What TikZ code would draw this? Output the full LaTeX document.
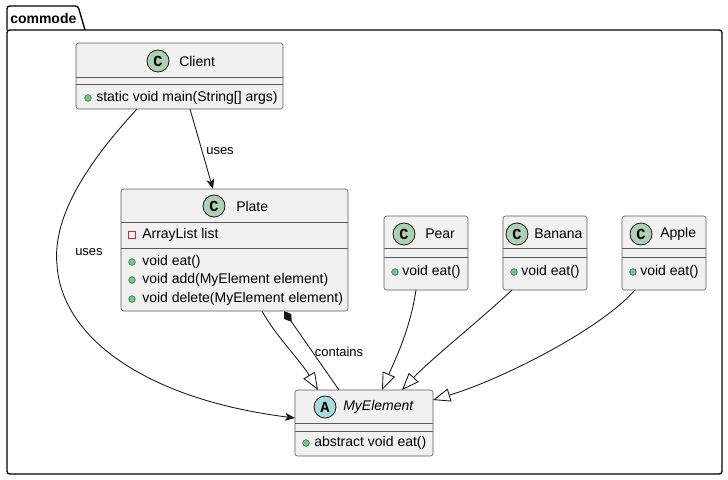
\documentclass[tikz,border=0pt]{standalone}
\usepackage{fontspec}
\setmainfont{Liberation Sans}
\setmonofont{Liberation Mono}
\usetikzlibrary{arrows.meta,calc}
\definecolor{boxfill}{HTML}{F1F1F1}
\definecolor{boxline}{HTML}{181818}
\definecolor{sepline}{HTML}{5A5A5A}
\definecolor{cfill}{HTML}{ADD1B2}
\definecolor{afill}{HTML}{A9DCDF}
\definecolor{pubfill}{HTML}{84BE84}
\definecolor{publine}{HTML}{038048}
\definecolor{privline}{HTML}{C82930}
\begin{document}
\begin{tikzpicture}[x=0.75pt,y=-0.75pt,
  classbox/.style={draw=sepline, fill=boxfill, line width=0.45pt, rounded corners=2pt, inner sep=0, outer sep=0, anchor=north west},
  sep/.style={draw=sepline, line width=0.45pt},
  circ/.style={circle, draw=boxline, line width=0.6pt, minimum size=16.5pt, inner sep=0, font=\fontsize{11.5}{11.5}\selectfont\ttfamily\bfseries},
  cname/.style={anchor=west, inner sep=0, font=\fontsize{10.5}{12}\selectfont},
  member/.style={anchor=west, inner sep=0, font=\fontsize{10.5}{12}\selectfont},
  lbl/.style={inner sep=0, font=\fontsize{9.75}{11}\selectfont},
  pubdot/.style={circle, fill=pubfill, draw=publine, line width=0.4pt, minimum size=5pt, inner sep=0},
  privsq/.style={rectangle, draw=privline, line width=0.6pt, minimum size=5pt, inner sep=0},
  conn/.style={draw=boxline, line width=0.65pt},
  uses/.style={conn, -{Stealth[length=7.5pt,width=6pt,inset=2pt]}},
  ext/.style={conn, -{Triangle[open,length=13pt,width=10pt,fill=white]}},
  comp/.style={conn, {Diamond[length=10pt,width=6.5pt]}-}
]
\useasboundingbox (0,0) rectangle (728,479);
% package
\draw[line width=1pt, black, rounded corners=2pt] (7,30) rectangle (722,474);
\draw[line width=1pt, black, rounded corners=2pt] (7,30) -- (7,6) -- (78,6) -- (85,30);
\node[anchor=west, inner sep=0, font=\fontsize{10.5}{12}\selectfont\bfseries] (pkg) at (10,18) {commode};

% Client
\node[classbox, minimum width=155.25pt, minimum height=49.5pt] (client) at (76,43) {};
\draw[sep] ($(client.north west)+(0,34)$) -- ($(client.north east)+(0,34)$);
\draw[sep] ($(client.north west)+(0,41)$) -- ($(client.north east)+(0,41)$);
\node[circ, fill=cfill] (clientC) at (158,61) {C};
\node[cname] (clientN) at (179,61) {Client};
\node[pubdot] (clientD1) at (88,98) {};
\node[member] (clientM1) at (96,98) {static void main(String[] args)};

% Plate
\node[classbox, minimum width=170.25pt, minimum height=91.5pt] (plate) at (121,189) {};
\draw[sep] ($(plate.north west)+(0,33)$) -- ($(plate.north east)+(0,33)$);
\draw[sep] ($(plate.north west)+(0,59)$) -- ($(plate.north east)+(0,59)$);
\node[circ, fill=cfill] (plateC) at (214,206) {C};
\node[cname] (plateN) at (236,206) {Plate};
\node[privsq] (plateS1) at (132,235) {};
\node[member] (plateA1) at (142,235) {ArrayList list};
\node[pubdot] (plateD1) at (132,262) {};
\node[member] (plateM1) at (142,262) {void eat()};
\node[pubdot] (plateD2) at (132,280) {};
\node[member] (plateM2) at (142,280) {void add(MyElement element)};
\node[pubdot] (plateD3) at (132,299) {};
\node[member] (plateM3) at (142,299) {void delete(MyElement element)};

% Pear
\node[classbox, minimum width=63pt, minimum height=55.5pt] (pear) at (384,216) {};
\draw[sep] ($(pear.north west)+(0,32)$) -- ($(pear.north east)+(0,32)$);
\draw[sep] ($(pear.north west)+(0,41)$) -- ($(pear.north east)+(0,41)$);
\node[circ, fill=cfill] (pearC) at (404,234) {C};
\node[cname] (pearN) at (425,234) {Pear};
\node[pubdot] (pearD1) at (395,272) {};
\node[member] (pearM1) at (402,272) {void eat()};

% Banana
\node[classbox, minimum width=63pt, minimum height=55.5pt] (banana) at (503,216) {};
\draw[sep] ($(banana.north west)+(0,32)$) -- ($(banana.north east)+(0,32)$);
\draw[sep] ($(banana.north west)+(0,41)$) -- ($(banana.north east)+(0,41)$);
\node[circ, fill=cfill] (bananaC) at (517,234) {C};
\node[cname] (bananaN) at (534,234) {Banana};
\node[pubdot] (bananaD1) at (514,272) {};
\node[member] (bananaM1) at (521,272) {void eat()};

% Apple
\node[classbox, minimum width=63pt, minimum height=55.5pt] (apple) at (622,216) {};
\draw[sep] ($(apple.north west)+(0,32)$) -- ($(apple.north east)+(0,32)$);
\draw[sep] ($(apple.north west)+(0,41)$) -- ($(apple.north east)+(0,41)$);
\node[circ, fill=cfill] (appleC) at (641,234) {C};
\node[cname] (appleN) at (660,234) {Apple};
\node[pubdot] (appleD1) at (633,272) {};
\node[member] (appleM1) at (640,272) {void eat()};

% MyElement
\node[classbox, minimum width=103.5pt, minimum height=49.5pt] (myel) at (295,390) {};
\draw[sep] ($(myel.north west)+(0,33)$) -- ($(myel.north east)+(0,33)$);
\draw[sep] ($(myel.north west)+(0,41)$) -- ($(myel.north east)+(0,41)$);
\node[circ, fill=afill] (myelA) at (325,407) {A};
\node[cname, font=\fontsize{10.5}{12}\selectfont\itshape] (myelN) at (343,407) {MyElement};
\node[pubdot] (myelD1) at (306,443) {};
\node[member] (myelM1) at (314,443) {abstract void eat()};

% connectors
\draw[uses] ($(client.south west)+(114,0)$) -- ($(plate.north west)+(92,0)$);
\node[lbl] (lbl1) at (220,151) {uses};
\draw[uses] ($(client.south west)+(61,0)$) .. controls (90,160) and (52,215) .. (57,265)
   .. controls (62,340) and (150,400) .. ($(myel.north west)+(0,28)$);
\node[lbl] (lbl2) at (89,252) {uses};
\draw[ext] ($(plate.south west)+(141,0)$) .. controls (275,335) and (300,360) .. ($(myel.north west)+(23,0)$);
\draw[comp] ($(plate.south west)+(163,0)$) -- ($(myel.north west)+(44,0)$);
\node[lbl] (lbl3) at (339,352) {contains};
\draw[ext] ($(pear.south west)+(32,0)$) .. controls (410,330) and (395,360) .. ($(myel.north west)+(87,0)$);
\draw[ext] ($(banana.south west)+(9,0)$) .. controls (480,320) and (430,360) .. ($(myel.north west)+(107,0)$);
\draw[ext] ($(apple.south west)+(13,0)$) .. controls (600,330) and (500,380) .. ($(myel.north east)+(0,10)$);
\end{tikzpicture}
\end{document}
